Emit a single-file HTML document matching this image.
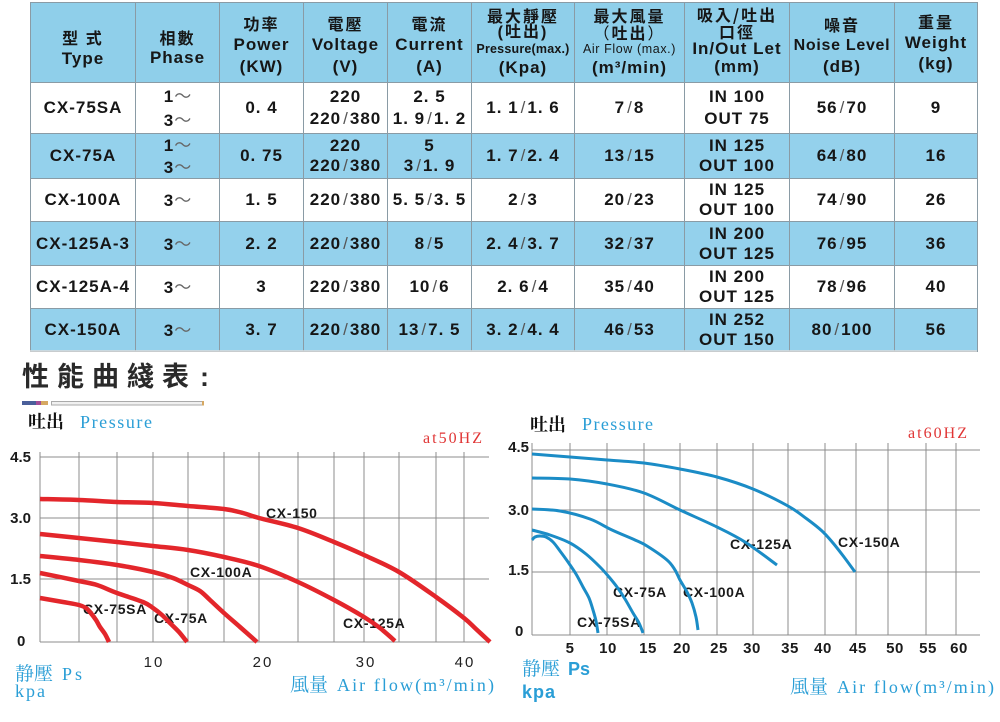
<!DOCTYPE html>
<html><head><meta charset="utf-8"><style>
html,body{margin:0;padding:0;background:#fff;}
body{width:1000px;height:722px;position:relative;overflow:hidden;}
table{position:absolute;left:30px;top:2px;width:947px;border-collapse:collapse;table-layout:fixed;}
td{border:1px solid #8a9ba5;padding:0;text-align:center;vertical-align:middle;font-family:"Liberation Sans","Noto Sans CJK TC",sans-serif;font-weight:bold;font-size:17px;line-height:20px;letter-spacing:1px;color:#161616;white-space:nowrap;overflow:hidden;}
tr.hd td{background:#8fcfea;vertical-align:top;}
tr.b td{background:#94d1ec;}
tr.w td{background:#fff;}
.cj{font-family:"Noto Sans CJK TC","Noto Sans CJK SC",sans-serif;font-size:16px;letter-spacing:2px;font-weight:bold;}
.sm{font-size:12.5px;letter-spacing:0.2px;}
.s{font-weight:normal;color:#555;margin:0 2px;letter-spacing:0;}
.t{font-family:"Noto Sans CJK TC",sans-serif;font-weight:normal;color:#666;letter-spacing:0;}
svg{position:absolute;left:0;top:0;}
</style></head><body>
<table>
<colgroup><col style="width:105px"><col style="width:84px"><col style="width:84px"><col style="width:84px"><col style="width:84px"><col style="width:103px"><col style="width:110px"><col style="width:105px"><col style="width:105px"><col style="width:83px"></colgroup>
<tr class="hd" style="height:80px">
<td style="padding-top:23px"><div class="cj" style="line-height:22px">型 式</div><div style="line-height:22px">Type</div></td>
<td style="padding-top:23px"><div class="cj" style="line-height:22px">相數</div><div style="line-height:20px">Phase</div></td>
<td style="padding-top:9px"><div class="cj" style="line-height:22px">功率</div><div style="line-height:22px">Power</div><div style="line-height:22px">(KW)</div></td>
<td style="padding-top:9px"><div class="cj" style="line-height:22px">電壓</div><div style="line-height:22px">Voltage</div><div style="line-height:22px">(V)</div></td>
<td style="padding-top:9px"><div class="cj" style="line-height:22px">電流</div><div style="line-height:22px">Current</div><div style="line-height:22px">(A)</div></td>
<td style="padding-top:4px"><div class="cj" style="line-height:17px">最大靜壓</div><div class="cj" style="line-height:17px;font-family:'Liberation Sans','Noto Sans CJK TC',sans-serif">(吐出)</div><div class="sm" style="line-height:17px">Pressure(max.)</div><div style="line-height:19px">(Kpa)</div></td>
<td style="padding-top:4px"><div class="cj" style="line-height:17px">最大風量</div><div class="cj" style="line-height:17px;font-weight:normal">（<b>吐出</b>）</div><div class="sm" style="line-height:17px;font-weight:normal;letter-spacing:0.6px">Air Flow (max.)</div><div style="line-height:19px">(m³/min)</div></td>
<td style="padding-top:3px"><div class="cj" style="line-height:17px">吸入/吐出</div><div class="cj" style="line-height:17px">口徑</div><div style="line-height:17px">In/Out Let</div><div style="line-height:19px">(mm)</div></td>
<td style="padding-top:11px"><div class="cj" style="line-height:21px">噪音</div><div style="line-height:21px;font-size:16px;letter-spacing:0.7px">Noise Level</div><div style="line-height:22px">(dB)</div></td>
<td style="padding-top:8px"><div class="cj" style="line-height:21px">重量</div><div style="line-height:21px">Weight</div><div style="line-height:21px">(kg)</div></td>
</tr>
<tr class="w" style="height:51px;line-height:22px">
<td style="line-height:22px">CX-75SA</td>
<td style="line-height:22px">1<span class="t">～</span><br>3<span class="t">～</span></td>
<td>0. 4</td>
<td style="line-height:22px">220<br>220<span class="s">/</span>380</td>
<td style="line-height:22px">2. 5<br>1. 9<span class="s">/</span>1. 2</td>
<td>1. 1<span class="s">/</span>1. 6</td>
<td>7<span class="s">/</span>8</td>
<td style="line-height:22px">IN 100<br>OUT 75</td>
<td>56<span class="s">/</span>70</td>
<td>9</td>
</tr>
<tr class="b" style="height:43px">
<td>CX-75A</td>
<td>1<span class="t">～</span><br>3<span class="t">～</span></td>
<td>0. 75</td>
<td>220<br>220<span class="s">/</span>380</td>
<td>5<br>3<span class="s">/</span>1. 9</td>
<td>1. 7<span class="s">/</span>2. 4</td>
<td>13<span class="s">/</span>15</td>
<td>IN 125<br>OUT 100</td>
<td>64<span class="s">/</span>80</td>
<td>16</td>
</tr>
<tr class="w" style="height:43px">
<td>CX-100A</td>
<td>3<span class="t">～</span></td>
<td>1. 5</td>
<td>220<span class="s">/</span>380</td>
<td>5. 5<span class="s">/</span>3. 5</td>
<td>2<span class="s">/</span>3</td>
<td>20<span class="s">/</span>23</td>
<td>IN 125<br>OUT 100</td>
<td>74<span class="s">/</span>90</td>
<td>26</td>
</tr>
<tr class="b" style="height:44px">
<td>CX-125A-3</td>
<td>3<span class="t">～</span></td>
<td>2. 2</td>
<td>220<span class="s">/</span>380</td>
<td>8<span class="s">/</span>5</td>
<td>2. 4<span class="s">/</span>3. 7</td>
<td>32<span class="s">/</span>37</td>
<td>IN 200<br>OUT 125</td>
<td>76<span class="s">/</span>95</td>
<td>36</td>
</tr>
<tr class="w" style="height:43px">
<td>CX-125A-4</td>
<td>3<span class="t">～</span></td>
<td>3</td>
<td>220<span class="s">/</span>380</td>
<td>10<span class="s">/</span>6</td>
<td>2. 6<span class="s">/</span>4</td>
<td>35<span class="s">/</span>40</td>
<td>IN 200<br>OUT 125</td>
<td>78<span class="s">/</span>96</td>
<td>40</td>
</tr>
<tr class="b" style="height:43px">
<td>CX-150A</td>
<td>3<span class="t">～</span></td>
<td>3. 7</td>
<td>220<span class="s">/</span>380</td>
<td>13<span class="s">/</span>7. 5</td>
<td>3. 2<span class="s">/</span>4. 4</td>
<td>46<span class="s">/</span>53</td>
<td>IN 252<br>OUT 150</td>
<td>80<span class="s">/</span>100</td>
<td>56</td>
</tr>
</table>

<svg width="1000" height="722" viewBox="0 0 1000 722" xmlns="http://www.w3.org/2000/svg">
<line x1="30" y1="351" x2="977" y2="351" stroke="#dcdcdc" stroke-width="1.5"/>
<!-- title -->
<text x="22" y="386" font-family="Noto Sans CJK TC, Noto Sans CJK SC, sans-serif" font-size="27" font-weight="bold" fill="#2a2a2a" letter-spacing="8">性能曲綫表</text>
<text x="200" y="386" font-family="Liberation Sans, sans-serif" font-size="27" font-weight="bold" fill="#2a2a2a">:</text>
<rect x="22" y="401" width="14" height="4" fill="#4a5f9a"/>
<rect x="36" y="401" width="5" height="4" fill="#a24d98"/>
<rect x="41" y="401" width="7" height="4" fill="#d6a862"/>
<rect x="51.5" y="401.5" width="151" height="3.5" fill="#f0f0f0" stroke="#aaaaaa" stroke-width="1"/>
<rect x="202" y="401" width="2" height="4.5" fill="#d6a862"/>

<!-- LEFT CHART -->
<text x="28" y="428" font-family="Noto Serif CJK SC, serif" font-size="18" font-weight="bold" fill="#111">吐出</text>
<text x="80" y="428" font-family="Liberation Serif, serif" font-size="18" fill="#2a9ed6" textLength="72" lengthAdjust="spacing">Pressure</text>
<text x="423" y="443" font-family="Liberation Serif, serif" font-size="16" fill="#e03535" textLength="59" lengthAdjust="spacing">at50HZ</text>
<g stroke="#8c8c8c" stroke-width="1" fill="none">
<line x1="40" y1="457" x2="489" y2="457"/>
<line x1="40" y1="518" x2="489" y2="518"/>
<line x1="40" y1="579" x2="489" y2="579"/>
<line x1="40" y1="642" x2="489" y2="642"/>
<line x1="40" y1="452" x2="40" y2="642"/>
<line x1="79" y1="452" x2="79" y2="642"/>
<line x1="117" y1="452" x2="117" y2="642"/>
<line x1="153" y1="452" x2="153" y2="642"/>
<line x1="188" y1="452" x2="188" y2="642"/>
<line x1="224" y1="452" x2="224" y2="642"/>
<line x1="259" y1="452" x2="259" y2="642"/>
<line x1="298" y1="452" x2="298" y2="642"/>
<line x1="334" y1="452" x2="334" y2="642"/>
<line x1="364" y1="452" x2="364" y2="642"/>
<line x1="399" y1="452" x2="399" y2="642"/>
<line x1="436" y1="452" x2="436" y2="642"/>
<line x1="464" y1="452" x2="464" y2="642"/>
</g>
<g font-family="Liberation Sans, sans-serif" font-size="15" font-weight="bold" fill="#1a1a1a">
<text x="31" y="462" text-anchor="end">4.5</text>
<text x="31" y="523" text-anchor="end">3.0</text>
<text x="31" y="584" text-anchor="end">1.5</text>
<text x="17" y="646">0</text>
</g>
<g font-family="Liberation Sans, sans-serif" font-size="15" fill="#222" text-anchor="middle" letter-spacing="2">
<text x="154" y="667">10</text>
<text x="263" y="667">20</text>
<text x="366" y="667">30</text>
<text x="465" y="667">40</text>
</g>
<g font-family="Liberation Sans, sans-serif" font-size="14" font-weight="bold" fill="#1a1a1a" letter-spacing="0.7">
<text x="266" y="518">CX-150</text>
<text x="190" y="577">CX-100A</text>
<text x="83" y="614">CX-75SA</text>
<text x="154" y="623">CX-75A</text>
<text x="343" y="628">CX-125A</text>
</g>
<g stroke="#e3262b" stroke-width="4.5" fill="none" stroke-linejoin="round" stroke-linecap="butt">
<polyline class="cv" points="40,499 79,500 117,502 153,503 188,506 224,509 243,513 259,518 298,528 334,542 364,555 399,572 436,597 464,618 476,629 490,642"/>
<polyline class="cv" points="40,534 79,538 117,542 153,546 188,550 224,557 259,566 298,582 334,600 364,617 380,628 395,641"/>
<polyline class="cv" points="40,556 79,560 117,565 153,572 173,578 188,585 200,591 210,600 224,613 240,627 257,642"/>
<polyline class="cv" points="40,573 79,581 97,585 117,593 143,602 153,608 162,615 170,623 179,632 187,642"/>
<polyline class="cv" points="40,598 63,602 79,605 86,608 90,612 96,620 100,627 105,634 109,642"/>
</g>
<text x="15" y="680" font-family="Noto Serif CJK SC, serif" font-size="19" fill="#2a9ed6">静壓</text>
<text x="62" y="680" font-family="Liberation Serif, serif" font-size="18" fill="#2a9ed6" textLength="20" lengthAdjust="spacing">Ps</text>
<text x="15" y="697" font-family="Liberation Serif, serif" font-size="18" fill="#2a9ed6" textLength="30" lengthAdjust="spacing">kpa</text>
<text x="290" y="691" font-family="Noto Serif CJK SC, serif" font-size="19" fill="#2a9ed6">風量</text>
<text x="337" y="691" font-family="Liberation Serif, serif" font-size="18" fill="#2a9ed6" textLength="157" lengthAdjust="spacing">Air flow(m³/min)</text>

<!-- RIGHT CHART -->
<text x="530" y="431" font-family="Noto Serif CJK SC, serif" font-size="18" font-weight="bold" fill="#111">吐出</text>
<text x="582" y="430" font-family="Liberation Serif, serif" font-size="18" fill="#2a9ed6" textLength="71" lengthAdjust="spacing">Pressure</text>
<text x="908" y="438" font-family="Liberation Serif, serif" font-size="16" fill="#e03535" textLength="59" lengthAdjust="spacing">at60HZ</text>
<g stroke="#8c8c8c" stroke-width="1" fill="none">
<line x1="532" y1="450" x2="980" y2="450"/>
<line x1="532" y1="510" x2="980" y2="510"/>
<line x1="532" y1="572" x2="980" y2="572"/>
<line x1="532" y1="635" x2="980" y2="635"/>
<line x1="532" y1="443" x2="532" y2="635"/>
<line x1="570" y1="443" x2="570" y2="635"/>
<line x1="607" y1="443" x2="607" y2="635"/>
<line x1="644" y1="443" x2="644" y2="635"/>
<line x1="680" y1="443" x2="680" y2="635"/>
<line x1="717" y1="443" x2="717" y2="635"/>
<line x1="753" y1="443" x2="753" y2="635"/>
<line x1="788" y1="443" x2="788" y2="635"/>
<line x1="825" y1="443" x2="825" y2="635"/>
<line x1="856" y1="443" x2="856" y2="635"/>
<line x1="888" y1="443" x2="888" y2="635"/>
<line x1="926" y1="443" x2="926" y2="635"/>
<line x1="956" y1="443" x2="956" y2="635"/>
</g>
<g font-family="Liberation Sans, sans-serif" font-size="15" font-weight="bold" fill="#1a1a1a">
<text x="529" y="452" text-anchor="end">4.5</text>
<text x="529" y="515" text-anchor="end">3.0</text>
<text x="529" y="575" text-anchor="end">1.5</text>
<text x="515" y="636">0</text>
</g>
<g font-family="Liberation Sans, sans-serif" font-size="15" font-weight="bold" fill="#1a1a1a" text-anchor="middle" letter-spacing="0.5">
<text x="570" y="653">5</text>
<text x="608" y="653">10</text>
<text x="648" y="653">15</text>
<text x="682" y="653">20</text>
<text x="719" y="653">25</text>
<text x="752" y="653">30</text>
<text x="790" y="653">35</text>
<text x="823" y="653">40</text>
<text x="858" y="653">45</text>
<text x="895" y="653">50</text>
<text x="928" y="653">55</text>
<text x="959" y="653">60</text>
</g>
<g font-family="Liberation Sans, sans-serif" font-size="14" font-weight="bold" fill="#1a1a1a" letter-spacing="0.7">
<text x="730" y="549">CX-125A</text>
<text x="838" y="547">CX-150A</text>
<text x="613" y="597">CX-75A</text>
<text x="683" y="597">CX-100A</text>
<text x="577" y="627">CX-75SA</text>
</g>
<g stroke="#1b8cc6" stroke-width="3" fill="none" stroke-linejoin="round">
<polyline class="cv" points="532,454 570,457 607,460 644,463 680,469 717,477 753,489 788,506 807,519 822,531 833,543 844,557 855,572"/>
<polyline class="cv" points="532,478 570,479 607,484 644,493 680,510 717,527 745,542 777,565"/>
<polyline class="cv" points="532,509 560,511 590,519 612,530 635,540 647,546 667,560 675,570 680,580 687,592 692,603 696,617 698,630"/>
<polyline class="cv" points="532,530 550,535 570,543 586,554 600,567 609,577 617,587 625,599 633,613 639,623 643,633"/>
<polyline class="cv" points="532,540 535,537 540,536 546,537 553,542 560,551 568,562 576,574 583,587 589,598 593,610 596,621 598,633"/>
</g>
<text x="522" y="675" font-family="Noto Serif CJK SC, serif" font-size="19" fill="#2a9ed6">静壓</text>
<text x="568" y="675" font-family="Liberation Sans, sans-serif" font-size="18" font-weight="bold" fill="#2a9ed6">Ps</text>
<text x="522" y="698" font-family="Liberation Sans, sans-serif" font-size="18" font-weight="bold" fill="#2a9ed6" textLength="33" lengthAdjust="spacing">kpa</text>
<text x="790" y="693" font-family="Noto Serif CJK SC, serif" font-size="19" fill="#2a9ed6">風量</text>
<text x="837" y="693" font-family="Liberation Serif, serif" font-size="18" fill="#2a9ed6" textLength="157" lengthAdjust="spacing">Air flow(m³/min)</text>
</svg>
<script>
(function(){
  var NS="http://www.w3.org/2000/svg";
  var pls=document.querySelectorAll("polyline.cv");
  for(var k=0;k<pls.length;k++){
    var pl=pls[k];
    var raw=pl.getAttribute("points").trim().split(/\s+/);
    var p=[];
    for(var i=0;i<raw.length;i++){var a=raw[i].split(",");p.push([+a[0],+a[1]]);}
    if(p.length<3)continue;
    var d="M"+p[0][0]+","+p[0][1];
    for(var i=0;i<p.length-1;i++){
      var p0=p[i-1]||p[i],p1=p[i],p2=p[i+1],p3=p[i+2]||p2;
      var c1x=p1[0]+(p2[0]-p0[0])/6,c1y=p1[1]+(p2[1]-p0[1])/6;
      var c2x=p2[0]-(p3[0]-p1[0])/6,c2y=p2[1]-(p3[1]-p1[1])/6;
      d+=" C"+c1x.toFixed(2)+","+c1y.toFixed(2)+" "+c2x.toFixed(2)+","+c2y.toFixed(2)+" "+p2[0]+","+p2[1];
    }
    var path=document.createElementNS(NS,"path");
    path.setAttribute("d",d);
    pl.parentNode.replaceChild(path,pl);
  }
})();
</script>
</body></html>
